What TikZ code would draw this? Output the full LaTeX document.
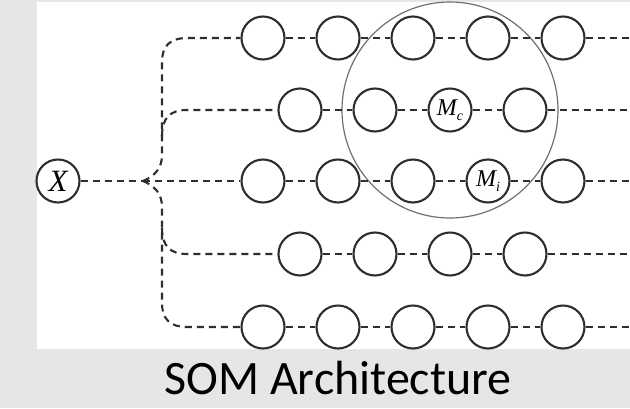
\documentclass[tikz,border=0pt]{standalone}
\usepackage{fontspec}
\setmainfont{Liberation Serif}
\newfontfamily\capfont{Carlito}
\definecolor{bggray}{HTML}{E6E6E6}
\definecolor{ink}{HTML}{2E2E2E}
\definecolor{ringgray}{HTML}{707070}
\tikzset{
  neuron/.style={circle, draw=ink, line width=2.1pt, fill=white, minimum size=43pt, inner sep=0pt},
  link/.style={draw=ink, line width=2.1pt, dash pattern=on 7pt off 5pt},
  mlabel/.style={font=\fontsize{24}{24}\selectfont\itshape, inner sep=0pt},
}
\newcommand{\subsc}[1]{\raisebox{-5pt}{\fontsize{14}{14}\selectfont\itshape #1}}
\begin{document}
\begin{tikzpicture}[x=1pt,y=-1pt]
\useasboundingbox (0,0) rectangle (630,408);
\fill[bggray] (0,0) rectangle (630,408);
\fill[white] (37,2) rectangle (630,349);
% neighbourhood ring
\draw[ringgray, line width=1.2pt] (450,110) circle[radius=108];
% nodes
\node[neuron] (x) at (58,181) {\fontsize{31}{31}\selectfont\itshape X};
\foreach \r/\y in {1/38,3/181,5/327}{
  \foreach \c/\xx in {1/263,2/338,3/413,4/488,5/563}{
    \node[neuron] (n\r\c) at (\xx,\y) {};
  }
  \coordinate (e\r) at (630,\y);
}
\foreach \r/\y in {2/110,4/254}{
  \foreach \c/\xx in {1/300,2/375,3/450,4/525}{
    \node[neuron] (n\r\c) at (\xx,\y) {};
  }
  \coordinate (e\r) at (630,\y);
}
\node[mlabel] (mc) at (n23) {M\subsc{c}};
\node[mlabel] (mi) at (n34) {M\subsc{i}};
% row links
\foreach \r in {1,3,5}{
  \draw[link] (n\r1) -- (n\r2);
  \draw[link] (n\r2) -- (n\r3);
  \draw[link] (n\r3) -- (n\r4);
  \draw[link] (n\r4) -- (n\r5);
  \draw[link] (n\r5) -- (e\r);
}
\foreach \r in {2,4}{
  \draw[link] (n\r1) -- (n\r2);
  \draw[link] (n\r2) -- (n\r3);
  \draw[link] (n\r3) -- (n\r4);
  \draw[link] (n\r4) -- (e\r);
}
% input tree
\coordinate (b) at (143,181);
\draw[link] (x) -- (b);
\draw[link] (b) -- (n31);
\draw[link] (b) .. controls (155,176) and (162,168) .. (162,155) -- (162,62)
  .. controls (162,46) and (170,38) .. (187,38) -- (n11);
\draw[link] (162,136) .. controls (162,118) and (170,110) .. (187,110) -- (n21);
\draw[link] (b) .. controls (155,186) and (162,194) .. (162,207) -- (162,303)
  .. controls (162,319) and (170,327) .. (187,327) -- (n51);
\draw[link] (162,228) .. controls (162,246) and (170,254) .. (187,254) -- (n41);
% caption
\node (cap) at (338,378) {\capfont\fontsize{48}{52}\selectfont SOM Architecture};
\end{tikzpicture}
\end{document}
